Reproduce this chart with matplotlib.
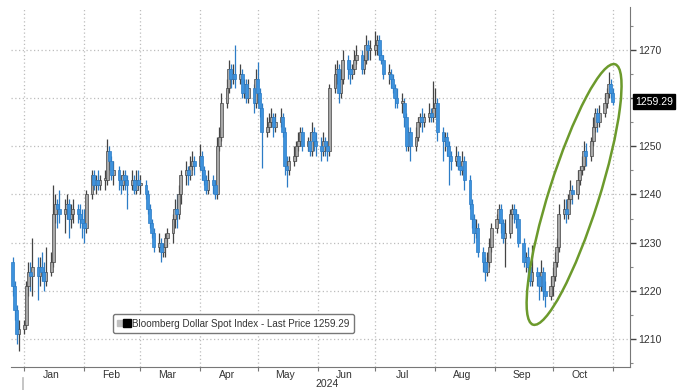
import numpy as np
import pandas as pd
import matplotlib
matplotlib.use('Agg')
import matplotlib.pyplot as plt
import matplotlib.dates as mdates
import matplotlib.transforms as mtransforms
from matplotlib.patches import Ellipse
from matplotlib.lines import Line2D
from matplotlib.legend_handler import HandlerTuple

# daily bars, business days 2023-12-26 .. 2024-11-01
first_open = 1226
close = [
    1221, 1216, 1211, 1212,  # Dec
    1213, 1221, 1224, 1223, 1225, 1223, 1225, 1224, 1222, 1224, 1226, 1236,
    1238, 1237, 1236, 1237, 1238, 1235, 1236, 1237, 1236, 1235, 1234,  # Jan
    1233, 1240, 1244, 1242, 1243, 1242, 1243, 1243, 1249, 1247, 1244, 1245,
    1243, 1242, 1244, 1243, 1242, 1243, 1241, 1243, 1242,  # Feb
    1242, 1240, 1237, 1234, 1232, 1229, 1230, 1228, 1229, 1231, 1232, 1235,
    1237, 1236, 1240, 1244, 1245, 1244, 1246, 1247, 1246,  # Mar
    1248, 1245, 1243, 1241, 1243, 1242, 1240, 1250, 1252, 1259, 1262, 1266,
    1264, 1265, 1264, 1265, 1261, 1263, 1260, 1262, 1259, 1264,  # Apr
    1261, 1258, 1253, 1254, 1255, 1256, 1254, 1255, 1256, 1253, 1246, 1245,
    1247, 1248, 1250, 1251, 1253, 1250, 1251, 1249, 1253, 1251, 1250,  # May
    1249, 1251, 1250, 1249, 1262, 1265, 1266, 1261, 1264, 1268, 1266, 1265,
    1266, 1268, 1269, 1266, 1268, 1271, 1270, 1270,  # Jun
    1271, 1272, 1269, 1268, 1265, 1265, 1264, 1262, 1260, 1259, 1259, 1256,
    1250, 1253, 1250, 1252, 1255, 1256, 1255, 1256, 1257, 1256, 1258,  # Jul
    1259, 1253, 1251, 1252, 1250, 1248, 1247, 1248, 1246, 1245, 1247, 1243,
    1238, 1235, 1232, 1233, 1228, 1226, 1224, 1226, 1229, 1233,  # Aug
    1235, 1237, 1234, 1231, 1232, 1236, 1237, 1236, 1235, 1230, 1226, 1227,
    1225, 1222, 1224, 1223, 1221, 1224, 1220, 1219, 1221,  # Sep
    1223, 1226, 1229, 1236, 1237, 1236, 1239, 1241, 1240, 1243, 1245, 1246,
    1249, 1248, 1251, 1254, 1257, 1255, 1257, 1259, 1261, 1263, 1261,  # Oct
    1259.29,  # Nov
]
high = [
    1227, 1222, 1217, 1214,
    1214, 1222, 1226, 1226, 1231, 1227, 1227, 1228, 1226, 1229, 1228, 1242,
    1240, 1239, 1241, 1239, 1240, 1239, 1238, 1239, 1238, 1238, 1237,
    1237, 1241, 1245, 1245, 1244, 1245, 1244, 1245, 1251.5, 1250, 1248, 1247,
    1246, 1244, 1245, 1245, 1244, 1245, 1244, 1245, 1245,
    1244, 1243, 1241, 1238, 1235, 1233, 1232, 1231, 1230, 1232, 1233, 1236,
    1239, 1240, 1242, 1245, 1247, 1246, 1248, 1249, 1248,
    1250.5, 1249, 1246, 1244, 1245, 1244, 1243, 1252, 1254, 1261, 1264, 1268,
    1267, 1267, 1271, 1267, 1266, 1264, 1264, 1264, 1263, 1266,
    1267.5, 1262, 1259, 1256, 1257, 1258, 1257, 1257, 1258, 1257, 1254, 1248,
    1248, 1250, 1251, 1253, 1254, 1254, 1252, 1253, 1255, 1254, 1253,
    1252, 1253, 1252, 1251, 1263, 1267, 1268, 1267, 1266, 1270, 1269, 1268,
    1267, 1270, 1271, 1270, 1269, 1273, 1272, 1272,
    1274, 1273, 1273, 1270, 1269, 1267, 1266, 1265, 1263, 1262, 1261, 1260,
    1257, 1254, 1254, 1254, 1256, 1257, 1258, 1257, 1259, 1258, 1263.5,
    1262, 1260, 1254, 1253, 1253, 1251, 1249, 1250, 1249, 1247, 1249, 1248,
    1244, 1239, 1236, 1235, 1234, 1229, 1227, 1228, 1231, 1234,
    1236, 1238, 1238, 1235, 1235, 1237, 1238, 1238, 1237, 1236, 1231, 1228,
    1229, 1226, 1229.5, 1225, 1224, 1226.5, 1225, 1222, 1223,
    1225, 1228, 1231, 1238, 1239, 1239, 1240, 1243, 1242, 1245, 1246, 1248,
    1251, 1250.7, 1252, 1256, 1258, 1258, 1258.5, 1261, 1262, 1265.5, 1264,
    1262,
]
low = [
    1219, 1214, 1209, 1207.5,
    1211, 1212, 1219, 1220, 1219, 1218, 1221, 1222, 1220, 1221, 1223, 1225,
    1234, 1233, 1234, 1232, 1235, 1231, 1233, 1234, 1234, 1233, 1231,
    1230, 1232, 1239, 1241, 1240, 1241, 1241, 1241, 1242, 1245, 1243, 1242,
    1241, 1240, 1241, 1241, 1237, 1241, 1240, 1240, 1241,
    1240, 1239, 1236, 1233, 1231, 1228, 1228, 1226, 1227, 1227, 1229, 1230,
    1233, 1233, 1235, 1238, 1242, 1242, 1243, 1245, 1244,
    1245, 1243, 1242, 1240, 1240, 1240, 1239, 1239, 1249, 1251, 1258, 1261,
    1262, 1263, 1262, 1263, 1260, 1260, 1259, 1259, 1257, 1258,
    1259, 1256, 1245.5, 1252, 1253, 1254, 1252, 1253, 1254, 1252, 1244, 1241.5,
    1244, 1246, 1247, 1249, 1250, 1249, 1249, 1248, 1248, 1249, 1248,
    1247, 1248, 1248, 1247, 1248, 1261, 1263, 1259, 1260, 1263, 1264, 1263,
    1264, 1265, 1267, 1265, 1265, 1267, 1268, 1268,
    1269, 1269, 1268, 1267, 1264, 1263, 1262, 1261, 1258, 1258, 1257, 1254,
    1249, 1249, 1247, 1249, 1251, 1254, 1253, 1254, 1255, 1255, 1255,
    1256, 1251, 1247, 1249, 1248, 1242, 1245, 1246, 1245, 1244, 1244, 1241,
    1237, 1233, 1230, 1231, 1227, 1224, 1222, 1223, 1225, 1228,
    1232, 1234, 1232, 1230, 1225, 1231, 1235, 1234, 1233, 1229, 1225, 1224,
    1222, 1221, 1221, 1221, 1218, 1220, 1218, 1216.7, 1218,
    1219, 1222, 1225, 1228, 1235, 1234, 1235, 1238, 1238, 1239, 1242, 1244,
    1245, 1246, 1247, 1250, 1253, 1253, 1254, 1256, 1258, 1260, 1260,
    1258.5,
]
last_price = 1259.29
y_ticks = [1210, 1220, 1230, 1240, 1250, 1260, 1270]
y_labels = ['1210', '1220', '1230', '1240', '1250', '', '1270']
legend_label = 'Bloomberg Dollar Spot Index - Last Price 1259.29'

dates = pd.bdate_range('2023-12-26', '2024-11-01')
x = mdates.date2num(dates.to_pydatetime())
c = np.array(close)
o = np.concatenate([[first_open], c[:-1]])
h = np.array(high)
l = np.array(low)
up = c >= o

UP_FACE, UP_EDGE = '#a8a8a8', '#444444'
DN_FACE, DN_EDGE = '#3d92dd', '#2c7cc6'

plt.rcParams['font.family'] = ['Liberation Sans', 'DejaVu Sans']
fig = plt.figure(figsize=(6.77, 3.9), dpi=100)
ax = fig.add_axes([11/677, 23/390, 619/677, 360/390])

ax.set_xlim(mdates.date2num(pd.Timestamp('2023-12-25')),
            mdates.date2num(pd.Timestamp('2024-11-10')))
ax.set_ylim(1204.2, 1278.9)

# wicks and bodies
wick_col = np.where(up, UP_EDGE, DN_EDGE)
ax.vlines(x, l, h, colors=wick_col, lw=0.9, zorder=3)
body_bot = np.minimum(o, c)
body_h = np.maximum(np.abs(c - o), 0.4)
ax.bar(x[up], body_h[up], bottom=body_bot[up], width=1.5,
       color=UP_FACE, edgecolor=UP_EDGE, linewidth=0.5, zorder=4)
ax.bar(x[~up], body_h[~up], bottom=body_bot[~up], width=1.5,
       color=DN_FACE, edgecolor=DN_EDGE, linewidth=0.5, zorder=4)

# axes styling
for s in ['top', 'left']:
    ax.spines[s].set_visible(False)
ax.spines['right'].set_color('#777777')
ax.spines['bottom'].set_color('#777777')
ax.spines['right'].set_linewidth(0.8)
ax.spines['bottom'].set_linewidth(0.8)

ax.yaxis.tick_right()
ax.set_yticks(y_ticks)
ax.set_yticklabels(y_labels)
ax.set_yticks(np.arange(1205, 1280, 5), minor=True)
ax.tick_params(axis='y', which='major', length=4, width=1, color='#444444',
               labelsize=7.5, labelcolor='#333333', pad=2)
ax.tick_params(axis='y', which='minor', length=2, width=0.8, color='#888888')

ax.xaxis.set_major_locator(mdates.MonthLocator())
ax.xaxis.set_major_formatter(plt.NullFormatter())
ax.xaxis.set_minor_locator(mdates.MonthLocator(bymonthday=15))
ax.xaxis.set_minor_formatter(mdates.DateFormatter('%b'))
ax.tick_params(axis='x', which='major', length=3, width=0.8, color='#777777')
ax.tick_params(axis='x', which='minor', length=0, labelsize=7.5,
               labelcolor='#333333', pad=2)

ax.grid(True, which='major', color='#bdbdbd', linestyle=(0, (1, 2)), lw=0.9)
ax.set_axisbelow(True)

# year label and separator
blend = mtransforms.blended_transform_factory(ax.transData, ax.transAxes)
jan1 = mdates.date2num(pd.Timestamp('2024-01-01'))
ax.plot([jan1 - 1, jan1 - 1], [-0.03, -0.065], transform=blend,
        color='#bbbbbb', lw=1.2, clip_on=False)
xmid = (jan1 + ax.get_xlim()[1]) / 2
ax.text(xmid, -0.047, '2024', transform=blend, ha='center', va='center',
        fontsize=7.5, color='#333333')

# last price tag
tag = mtransforms.blended_transform_factory(ax.transAxes, ax.transData)
ax.text(1.008, last_price, '1259.29', transform=tag, ha='left', va='center',
        fontsize=7.5, color='white', zorder=6, clip_on=False,
        bbox=dict(boxstyle='square,pad=0.2', fc='black', ec='black'))

# legend
h1 = Line2D([], [], marker='s', ls='', color='#c0c0c0', markersize=5)
h2 = Line2D([], [], marker='s', ls='', color='black', markersize=6)
leg = ax.legend([(h1, h2)], [legend_label],
                handler_map={tuple: HandlerTuple(ndivide=None, pad=0.1)},
                loc='lower left', bbox_to_anchor=(0.165, 0.094),
                borderaxespad=0, fontsize=7.1, handlelength=1.2,
                handletextpad=0.3, borderpad=0.45, framealpha=1,
                edgecolor='#777777', fancybox=True)
for t in leg.get_texts():
    t.set_color('#333333')

# green ellipse around the October rally
cx, cy = ax.transData.transform((mdates.date2num(pd.Timestamp('2024-10-12')), 1240))
ell = Ellipse((cx / fig.dpi, cy / fig.dpi), 273 / fig.dpi, 50 / fig.dpi,
              angle=72.5, transform=fig.dpi_scale_trans, fill=False,
              ec='#6c9a2c', lw=1.8, zorder=7)
fig.patches.append(ell)

fig.savefig('out.png', dpi=100)
